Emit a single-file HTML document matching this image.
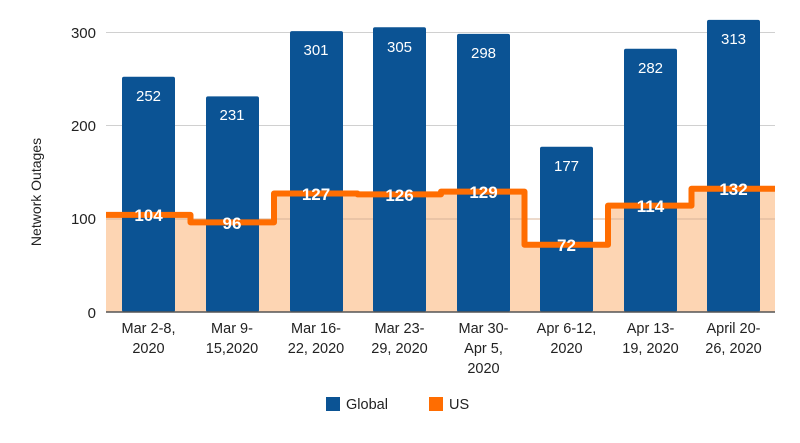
<!DOCTYPE html><html><head><style>body{margin:0;background:#fff}svg{font-family:"Liberation Sans",Arial,sans-serif}</style></head><body>
<svg width="800" height="438" viewBox="0 0 800 438">
<rect width="800" height="438" fill="#fff"/>
<g stroke="#d0d0d0" stroke-width="1">
<line x1="106" y1="32.5" x2="775" y2="32.5"/><line x1="106" y1="125.5" x2="775" y2="125.5"/><line x1="106" y1="219" x2="775" y2="219"/>
</g>
<path d="M106,312 V214.9 H190.5 V222.4 H274 V193.5 H357.5 V194.4 H441 V191.6 H524.5 V244.8 H608 V205.6 H691.5 V188.8 H775 V312 Z" fill="#fdd5b3"/>
<g stroke="#d8b49a" stroke-width="1"><line x1="106" y1="219" x2="775" y2="219"/></g>
<g fill="#0b5394">
<rect x="122" y="76.8" width="53" height="235.2" rx="2"/>
<rect x="206" y="96.4" width="53" height="215.6" rx="2"/>
<rect x="290" y="31.1" width="53" height="280.9" rx="2"/>
<rect x="373" y="27.3" width="53" height="284.7" rx="2"/>
<rect x="457" y="33.9" width="53" height="278.1" rx="2"/>
<rect x="540" y="146.8" width="53" height="165.2" rx="2"/>
<rect x="624" y="48.8" width="53" height="263.2" rx="2"/>
<rect x="707" y="19.9" width="53" height="292.1" rx="2"/>
</g>
<line x1="106" y1="312" x2="775" y2="312" stroke="#555" stroke-width="1.5"/>
<path d="M106,214.9 H190.5 V222.4 H274 V193.5 H357.5 V194.4 H441 V191.6 H524.5 V244.8 H608 V205.6 H691.5 V188.8 H775" fill="none" stroke="#ff6d01" stroke-width="6" stroke-linejoin="round"/>
<g fill="#fff" font-size="15" text-anchor="middle">
<text x="148.5" y="101">252</text><text x="232" y="120">231</text><text x="316" y="55">301</text><text x="399.5" y="52">305</text><text x="483.5" y="58">298</text><text x="566.5" y="171">177</text><text x="650.5" y="73">282</text><text x="733.5" y="44">313</text>
</g>
<g fill="#fff" font-size="17" font-weight="bold" text-anchor="middle">
<text x="148.5" y="221">104</text><text x="232" y="229">96</text><text x="316" y="200">127</text><text x="399.5" y="201">126</text><text x="483.5" y="198">129</text><text x="566.5" y="251">72</text><text x="650.5" y="212">114</text><text x="733.5" y="195">132</text>
</g>
<g fill="#222" font-size="15" text-anchor="end">
<text x="96" y="38">300</text><text x="96" y="131">200</text><text x="96" y="224">100</text><text x="96" y="318">0</text>
</g>
<text transform="translate(41,192) rotate(-90)" font-size="14" fill="#222" text-anchor="middle">Network Outages</text>
<g fill="#222" font-size="14.5" text-anchor="middle">
<text x="148.5" y="333">Mar 2-8,</text><text x="148.5" y="353">2020</text>
<text x="232" y="333">Mar 9-</text><text x="232" y="353">15,2020</text>
<text x="316" y="333">Mar 16-</text><text x="316" y="353">22, 2020</text>
<text x="399.5" y="333">Mar 23-</text><text x="399.5" y="353">29, 2020</text>
<text x="483.5" y="333">Mar 30-</text><text x="483.5" y="353">Apr 5,</text><text x="483.5" y="373">2020</text>
<text x="566.5" y="333">Apr 6-12,</text><text x="566.5" y="353">2020</text>
<text x="650.5" y="333">Apr 13-</text><text x="650.5" y="353">19, 2020</text>
<text x="733.5" y="333">April 20-</text><text x="733.5" y="353">26, 2020</text>
</g>
<rect x="326" y="397" width="14" height="14" fill="#0b5394"/>
<text x="346" y="409" font-size="14.5" fill="#222">Global</text>
<rect x="429" y="397" width="14" height="14" fill="#ff6d01"/>
<text x="449" y="409" font-size="14.5" fill="#222">US</text>
</svg>
</body></html>
